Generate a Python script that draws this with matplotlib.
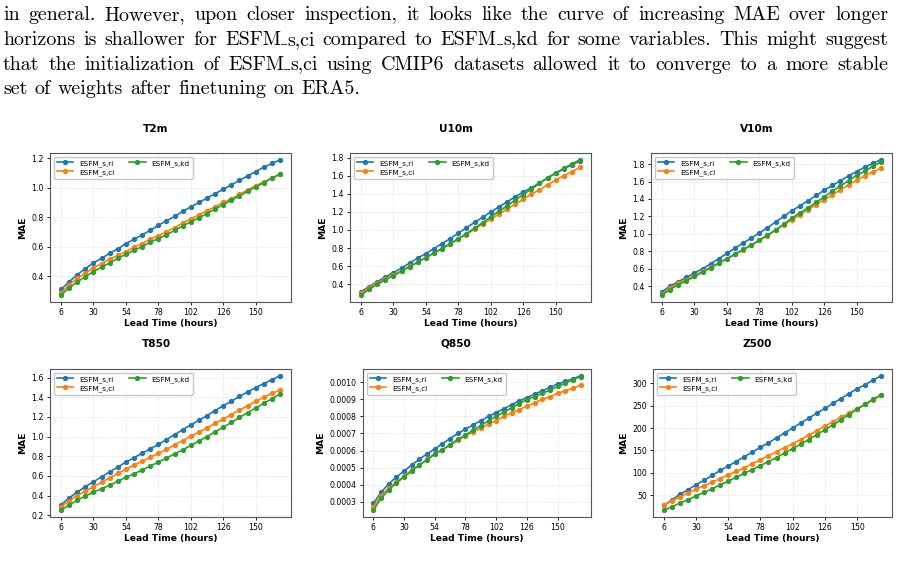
import matplotlib
matplotlib.use("Agg")
import matplotlib.pyplot as plt

W, H = 899, 573

# ---------------- data ----------------
lead_times = [6, 12, 18, 24, 30, 36, 42, 48, 54, 60, 66, 72, 78, 84, 90, 96,
              102, 108, 114, 120, 126, 132, 138, 144, 150, 156, 162, 168]
xticks = [6, 30, 54, 78, 102, 126, 150]
series_names = ["ESFM_s,ri", "ESFM_s,ci", "ESFM_s,kd"]
series_colors = ["#1f77b4", "#ff7f0e", "#2ca02c"]
variables = ["T2m", "U10m", "V10m", "T850", "Q850", "Z500"]

t2m_ri = [0.31, 0.36, 0.41, 0.45, 0.49, 0.52, 0.555, 0.585, 0.62, 0.65, 0.68, 0.71, 0.745, 0.775,
          0.805, 0.84, 0.87, 0.90, 0.93, 0.96, 0.99, 1.02, 1.05, 1.08, 1.11, 1.14, 1.165, 1.19]
t2m_ci = [0.285, 0.34, 0.385, 0.42, 0.455, 0.485, 0.515, 0.54, 0.566, 0.595, 0.62, 0.65, 0.675, 0.70,
          0.73, 0.76, 0.79, 0.815, 0.845, 0.87, 0.90, 0.925, 0.955, 0.985, 1.015, 1.04, 1.065, 1.09]
t2m_kd = [0.27, 0.32, 0.36, 0.395, 0.43, 0.46, 0.49, 0.52, 0.548, 0.575, 0.60, 0.63, 0.655, 0.68,
          0.71, 0.74, 0.77, 0.795, 0.825, 0.855, 0.885, 0.915, 0.945, 0.975, 1.005, 1.035, 1.065, 1.095]

u10_ri = [0.32, 0.375, 0.43, 0.48, 0.53, 0.58, 0.635, 0.69, 0.74, 0.795, 0.85, 0.905, 0.965, 1.025,
          1.085, 1.14, 1.20, 1.255, 1.31, 1.365, 1.42, 1.465, 1.52, 1.575, 1.625, 1.675, 1.72, 1.76]
u10_ci = [0.30, 0.365, 0.415, 0.46, 0.505, 0.55, 0.60, 0.645, 0.695, 0.745, 0.795, 0.845, 0.90, 0.95,
          1.01, 1.065, 1.12, 1.175, 1.23, 1.285, 1.34, 1.395, 1.445, 1.50, 1.55, 1.60, 1.645, 1.69]
u10_kd = [0.28, 0.345, 0.40, 0.45, 0.495, 0.545, 0.595, 0.645, 0.695, 0.745, 0.795, 0.85, 0.905, 0.96,
          1.02, 1.08, 1.145, 1.205, 1.265, 1.33, 1.39, 1.45, 1.515, 1.575, 1.63, 1.68, 1.73, 1.775]

v10_ri = [0.335, 0.40, 0.45, 0.50, 0.55, 0.60, 0.655, 0.715, 0.775, 0.835, 0.895, 0.95, 1.01, 1.07,
          1.135, 1.20, 1.265, 1.32, 1.38, 1.44, 1.50, 1.555, 1.61, 1.665, 1.715, 1.765, 1.81, 1.85]
v10_ci = [0.31, 0.38, 0.43, 0.475, 0.52, 0.57, 0.615, 0.665, 0.715, 0.765, 0.815, 0.87, 0.925, 0.98,
          1.04, 1.10, 1.16, 1.22, 1.275, 1.335, 1.39, 1.45, 1.505, 1.56, 1.615, 1.665, 1.71, 1.755]
v10_kd = [0.295, 0.36, 0.415, 0.46, 0.51, 0.56, 0.61, 0.66, 0.715, 0.765, 0.82, 0.87, 0.925, 0.985,
          1.045, 1.11, 1.18, 1.24, 1.30, 1.36, 1.425, 1.49, 1.55, 1.61, 1.67, 1.72, 1.775, 1.825]

t850_ri = [0.305, 0.375, 0.435, 0.49, 0.54, 0.59, 0.64, 0.69, 0.74, 0.785, 0.83, 0.875, 0.92, 0.97,
           1.02, 1.07, 1.12, 1.165, 1.215, 1.265, 1.315, 1.36, 1.41, 1.455, 1.50, 1.54, 1.58, 1.62]
t850_ci = [0.285, 0.345, 0.40, 0.445, 0.49, 0.535, 0.58, 0.625, 0.67, 0.71, 0.75, 0.79, 0.83, 0.87,
           0.915, 0.96, 1.005, 1.045, 1.09, 1.135, 1.18, 1.225, 1.27, 1.315, 1.36, 1.40, 1.44, 1.475]
t850_kd = [0.25, 0.305, 0.35, 0.395, 0.435, 0.47, 0.505, 0.545, 0.585, 0.62, 0.66, 0.70, 0.74, 0.78,
           0.825, 0.865, 0.91, 0.955, 1.00, 1.05, 1.095, 1.145, 1.195, 1.245, 1.29, 1.34, 1.385, 1.435]

q850_ri = [0.000290, 0.000355, 0.000405, 0.000445, 0.000480, 0.000515, 0.000550, 0.000580, 0.000610,
           0.000640, 0.000670, 0.000700, 0.000725, 0.000750, 0.000775, 0.000800, 0.000822, 0.000845,
           0.000868, 0.000890, 0.000910, 0.000930, 0.000950, 0.000970, 0.000990, 0.001005, 0.001020, 0.001038]
q850_ci = [0.000270, 0.000335, 0.000380, 0.000415, 0.000450, 0.000485, 0.000515, 0.000550, 0.000580,
           0.000605, 0.000630, 0.000660, 0.000685, 0.000710, 0.000730, 0.000755, 0.000775, 0.000800,
           0.000820, 0.000840, 0.000860, 0.000880, 0.000900, 0.000915, 0.000935, 0.000950, 0.000965, 0.000982]
q850_kd = [0.000250, 0.000320, 0.000370, 0.000410, 0.000445, 0.000480, 0.000515, 0.000545, 0.000580,
           0.000605, 0.000635, 0.000665, 0.000690, 0.000720, 0.000745, 0.000775, 0.000800, 0.000825,
           0.000850, 0.000875, 0.000898, 0.000915, 0.000935, 0.000955, 0.000975, 0.000995, 0.001015, 0.001033]

z500_ri = [27, 39, 52, 62, 73, 83, 94, 105, 115, 125, 136, 146, 157, 167,
           178, 189, 200, 211, 222, 233, 244, 255, 266, 277, 288, 297, 307, 317]
z500_ci = [27, 37, 46, 55, 63, 71, 79, 87, 95, 103, 111, 120, 129, 138,
           147, 156, 165, 174, 184, 194, 204, 214, 224, 233, 243, 253, 263, 273]
z500_kd = [16, 24, 32, 40, 48, 56, 64, 73, 81, 90, 99, 107, 116, 125,
           134, 144, 154, 164, 174, 185, 196, 207, 218, 230, 242, 253, 264, 275]

panel_data = [
    [t2m_ri, t2m_ci, t2m_kd],
    [u10_ri, u10_ci, u10_kd],
    [v10_ri, v10_ci, v10_kd],
    [t850_ri, t850_ci, t850_kd],
    [q850_ri, q850_ci, q850_kd],
    [z500_ri, z500_ci, z500_kd],
]

paragraph_lines = [
    "in general. However, upon closer inspection, it looks like the curve of increasing MAE over longer",
    "horizons is shallower for ESFM_s,ci compared to ESFM_s,kd for some variables. This might suggest",
    "that the initialization of ESFM_s,ci using CMIP6 datasets allowed it to converge to a more stable",
    "set of weights after finetuning on ERA5.",
]

# ---------------- layout (pixels) ----------------
axes_px = [
    (50, 291, 153, 302), (350, 591, 153, 302), (651, 892, 153, 302),
    (50, 291, 369, 517), (363, 591, 369, 517), (653, 892, 369, 517),
]
title_px = [(156, 129), (456, 129), (757, 129), (156, 344), (456, 344), (757, 344)]

fig = plt.figure(figsize=(W / 100, H / 100), dpi=100)
fig.patch.set_facecolor("white")

for i, var in enumerate(variables):
    l, r, t, b = axes_px[i]
    ax = fig.add_axes([l / W, 1 - b / H, (r - l) / W, (b - t) / H])
    for name, col, vals in zip(series_names, series_colors, panel_data[i]):
        ax.plot(lead_times, vals, color=col, marker="o", markersize=2.8,
                linewidth=1.2, label=name)
    ax.set_xticks(xticks)
    ax.grid(True, linestyle="--", linewidth=0.5, alpha=0.35)
    ax.tick_params(labelsize=5.6, length=2.5, width=0.6, pad=2)
    for s in ax.spines.values():
        s.set_linewidth(0.8)
        s.set_color("#555555")
    ax.set_xlabel("Lead Time (hours)", fontsize=6.6, fontweight="bold", labelpad=1)
    ax.set_ylabel("MAE", fontsize=6.6, fontweight="bold", labelpad=3)
    ax.legend(loc="upper left", ncol=2, fontsize=5.2, handlelength=2.3,
              columnspacing=2.0, borderpad=0.45, labelspacing=0.3,
              handletextpad=0.8, edgecolor="#bbbbbb", fancybox=True)
    tx, ty = title_px[i]
    fig.text(tx / W, 1 - ty / H, var, ha="center", va="center",
             fontsize=7.6, fontweight="bold")

# ---------------- justified paragraph ----------------
fig.canvas.draw()
renderer = fig.canvas.get_renderer()
line_base = [20.5, 45.0, 69.5, 94.0]
x_left, x_right = 3, 888
fam = ["cmr10", "DejaVu Serif"]
fs = 14.4


def segments(word):
    # split on underscore: LaTeX-like low rule drawn with a serif underscore
    parts = word.split("_")
    segs = []
    for k, p in enumerate(parts):
        if k > 0:
            segs.append(("_", ["DejaVu Serif"], fs * 0.62, 2.5))
        if p:
            segs.append((p, fam, fs, 0.0))
    return segs


def measure(txt, family, size):
    t = fig.text(0, 0, txt, fontsize=size, family=family)
    w = t.get_window_extent(renderer).width
    t.remove()
    return w


space_w = measure("a a", fam, fs) - measure("aa", fam, fs)

for li, line in enumerate(paragraph_lines):
    words = line.split(" ")
    word_items = []
    for w in words:
        items = []
        for txt, family, size, dy in segments(w):
            t = fig.text(0, 1 - (line_base[li] - dy) / H, txt, fontsize=size,
                         family=family, ha="left", va="baseline")
            items.append((t, t.get_window_extent(renderer).width))
        word_items.append(items)
    widths = [sum(iw for _, iw in items) for items in word_items]
    if li < len(paragraph_lines) - 1:
        gap = (x_right - x_left - sum(widths)) / (len(words) - 1)
    else:
        gap = space_w * 1.1
    x = x_left
    for items, w in zip(word_items, widths):
        xx = x
        for t, iw in items:
            t.set_x(xx / W)
            xx += iw
        x += w + gap

fig.savefig("out.png", dpi=100, facecolor="white")
